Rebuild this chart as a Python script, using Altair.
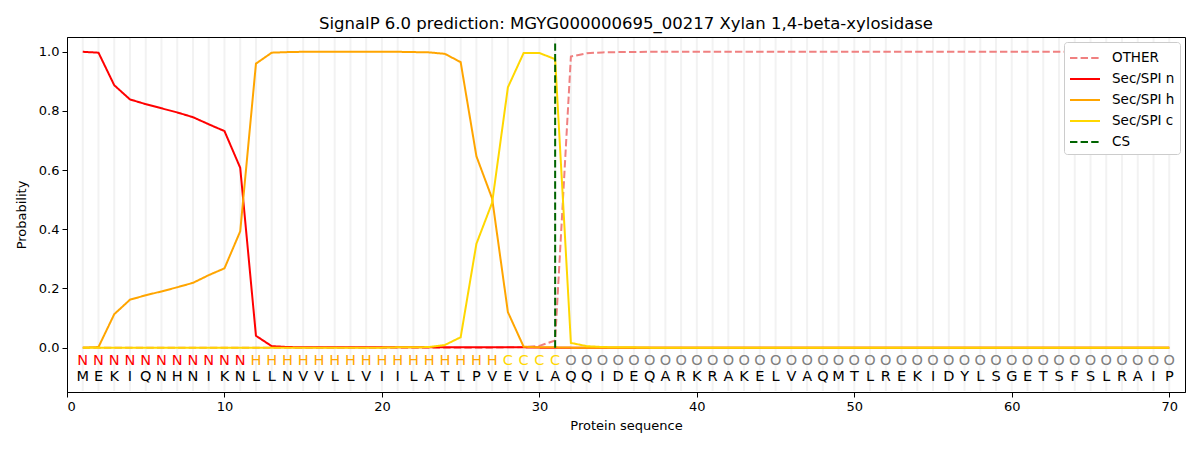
import altair as alt
import pandas as pd

positions = list(range(1, 71))
sequence = list("MEKIQNHNIKNLLNVVLLVIILATLPVEVLAQQIDEQARKRAKELVAQMTLREKIDYLSGETSFSLRAIP")
region_labels = list("NNNNNNNNNNNHHHHHHHHHHHHHHHHCCCCOOOOOOOOOOOOOOOOOOOOOOOOOOOOOOOOOOOOOOO")

other = [0.0, 0.0, 0.0, 0.0, 0.0, 0.0, 0.0, 0.0, 0.0, 0.0,
         0.0, 0.0, 0.0, 0.0, 0.0, 0.0, 0.0, 0.0, 0.0, 0.0,
         0.0, 0.0, 0.0, 0.0, 0.0, 0.0, 0.0, 0.001, 0.002, 0.006,
         0.024, 0.984, 0.995, 0.998, 0.999, 0.999, 1.0, 1.0, 1.0, 1.0,
         1.0, 1.0, 1.0, 1.0, 1.0, 1.0, 1.0, 1.0, 1.0, 1.0,
         1.0, 1.0, 1.0, 1.0, 1.0, 1.0, 1.0, 1.0, 1.0, 1.0,
         1.0, 1.0, 1.0, 1.0, 1.0, 1.0, 1.0, 1.0, 1.0, 1.0]
sec_n = [1.0, 0.997, 0.887, 0.839, 0.823, 0.809, 0.795, 0.779, 0.755, 0.732,
         0.608, 0.04, 0.005, 0.002, 0.001, 0.001, 0.001, 0.001, 0.001, 0.001,
         0.001, 0.001, 0.001, 0.001, 0.001, 0.001, 0.001, 0.001, 0.001, 0.0,
         0.0, 0.0, 0.0, 0.0, 0.0, 0.0, 0.0, 0.0, 0.0, 0.0,
         0.0, 0.0, 0.0, 0.0, 0.0, 0.0, 0.0, 0.0, 0.0, 0.0,
         0.0, 0.0, 0.0, 0.0, 0.0, 0.0, 0.0, 0.0, 0.0, 0.0,
         0.0, 0.0, 0.0, 0.0, 0.0, 0.0, 0.0, 0.0, 0.0, 0.0]
sec_h = [0.0, 0.002, 0.113, 0.162, 0.177, 0.19, 0.204, 0.219, 0.245, 0.268,
         0.393, 0.96, 0.997, 0.999, 1.0, 1.0, 1.0, 1.0, 1.0, 1.0,
         1.0, 0.999, 0.998, 0.993, 0.965, 0.647, 0.504, 0.12, 0.003, 0.001,
         0.001, 0.0, 0.0, 0.0, 0.0, 0.0, 0.0, 0.0, 0.0, 0.0,
         0.0, 0.0, 0.0, 0.0, 0.0, 0.0, 0.0, 0.0, 0.0, 0.0,
         0.0, 0.0, 0.0, 0.0, 0.0, 0.0, 0.0, 0.0, 0.0, 0.0,
         0.0, 0.0, 0.0, 0.0, 0.0, 0.0, 0.0, 0.0, 0.0, 0.0]
sec_c = [0.0, 0.0, 0.0, 0.0, 0.0, 0.0, 0.0, 0.0, 0.0, 0.0,
         0.0, 0.0, 0.0, 0.0, 0.0, 0.0, 0.0, 0.0, 0.0, 0.0,
         0.001, 0.001, 0.002, 0.009, 0.035, 0.351, 0.49, 0.88, 0.996, 0.996,
         0.975, 0.016, 0.005, 0.002, 0.001, 0.001, 0.0, 0.0, 0.0, 0.0,
         0.0, 0.0, 0.0, 0.0, 0.0, 0.0, 0.0, 0.0, 0.0, 0.0,
         0.0, 0.0, 0.0, 0.0, 0.0, 0.0, 0.0, 0.0, 0.0, 0.0,
         0.0, 0.0, 0.0, 0.0, 0.0, 0.0, 0.0, 0.0, 0.0, 0.0]
cs_position = 31

series_names = ["OTHER", "Sec/SPI n", "Sec/SPI h", "Sec/SPI c", "CS"]
series_colors = ["#f08080", "#ff0000", "#ffa500", "#ffd700", "#006400"]
series_dash = [[7.4, 3.2], [1, 0], [1, 0], [1, 0], [7.4, 3.2]]
label_colors = {"N": "#ff0000", "H": "#ffa500", "C": "#ffd700", "O": "#808080"}

rows = []
for name, vals in zip(series_names[:4], [other, sec_n, sec_h, sec_c]):
    for p, v in zip(positions, vals):
        rows.append({"series": name, "pos": p, "prob": v})
lines_df = pd.DataFrame(rows)

text_df = pd.DataFrame({
    "pos": positions,
    "aa": sequence,
    "lab": region_labels,
    "labcolor": [label_colors[l] for l in region_labels],
})
cs_df = pd.DataFrame({"series": ["CS"], "pos": [cs_position], "y0": [0.0], "y1": [1.037]})

FONT = "DejaVu Sans"
W, H = 1118, 355

xscale = alt.Scale(domain=[0, 71], nice=False, zero=False)
yscale = alt.Scale(domain=[-0.15, 1.05], nice=False, zero=False)
color_scale = alt.Scale(domain=series_names, range=series_colors)
dash_scale = alt.Scale(domain=series_names, range=series_dash)

legend = alt.Legend(
    title=None, orient="none", legendX=997, legendY=5,
    symbolType="M-1,0H2", symbolSize=400, symbolStrokeWidth=2,
    symbolFillColor="transparent",
    labelFont=FONT, labelFontSize=13.5, labelColor="black",
    fillColor="white", strokeColor="#cccccc", padding=5, cornerRadius=3,
    rowPadding=3, labelOffset=21,
)

xaxis = alt.Axis(values=[0, 10, 20, 30, 40, 50, 60, 70], title="Protein sequence",
                 grid=False, tickSize=5, labelPadding=3, titlePadding=6)
yaxis = alt.Axis(values=[0.0, 0.2, 0.4, 0.6, 0.8, 1.0], format=".1f", title="Probability",
                 grid=False, tickSize=5, labelPadding=3, titlePadding=10)

grid = alt.Chart(text_df).mark_rule(color="#f2f2f2", strokeWidth=2).encode(
    x=alt.X("pos:Q", scale=xscale, axis=xaxis),
    y=alt.value(1), y2=alt.value(H - 1),
)

def line_layer(name):
    return alt.Chart(lines_df).transform_filter(alt.datum.series == name).mark_line(strokeWidth=2).encode(
        x=alt.X("pos:Q", scale=xscale, axis=xaxis),
        y=alt.Y("prob:Q", scale=yscale, axis=yaxis),
        color=alt.Color("series:N", scale=color_scale, legend=legend),
        strokeDash=alt.StrokeDash("series:N", scale=dash_scale, legend=legend),
    )

cs_rule = alt.Chart(cs_df).mark_rule(strokeWidth=2).encode(
    x=alt.X("pos:Q", scale=xscale),
    y=alt.Y("y0:Q", scale=yscale),
    y2="y1:Q",
    color=alt.Color("series:N", scale=color_scale, legend=legend),
    strokeDash=alt.StrokeDash("series:N", scale=dash_scale, legend=legend),
)

lab_text = alt.Chart(text_df).transform_calculate(yy="-0.045").mark_text(
    font=FONT, fontSize=14.5, baseline="middle", align="center").encode(
    x=alt.X("pos:Q", scale=xscale),
    y=alt.Y("yy:Q", scale=yscale),
    text="lab:N",
    color=alt.Color("labcolor:N", scale=None),
)
aa_text = alt.Chart(text_df).transform_calculate(yy="-0.1").mark_text(
    font=FONT, fontSize=14.5, baseline="middle", align="center", color="black").encode(
    x=alt.X("pos:Q", scale=xscale),
    y=alt.Y("yy:Q", scale=yscale),
    text="aa:N",
)

chart = alt.layer(
    grid,
    line_layer("OTHER"), line_layer("Sec/SPI n"), line_layer("Sec/SPI h"), line_layer("Sec/SPI c"),
    cs_rule, lab_text, aa_text,
).properties(
    width=W, height=H,
    title=alt.TitleParams("SignalP 6.0 prediction: MGYG000000695_00217 Xylan 1,4-beta-xylosidase",
                          font=FONT, fontSize=16.5, fontWeight="normal", color="black", offset=5),
    autosize=alt.AutoSizeParams(type="none"),
    padding={"left": 59, "top": 29, "right": 7, "bottom": 50},
).configure_view(stroke="black", strokeWidth=1).configure_axis(
    labelFont=FONT, titleFont=FONT, labelFontSize=13, titleFontSize=13,
    titleFontWeight="normal", labelColor="black", titleColor="black",
    domainColor="black", tickColor="black",
)

chart.save("out.html", embed_options={"renderer": "svg", "actions": False})
